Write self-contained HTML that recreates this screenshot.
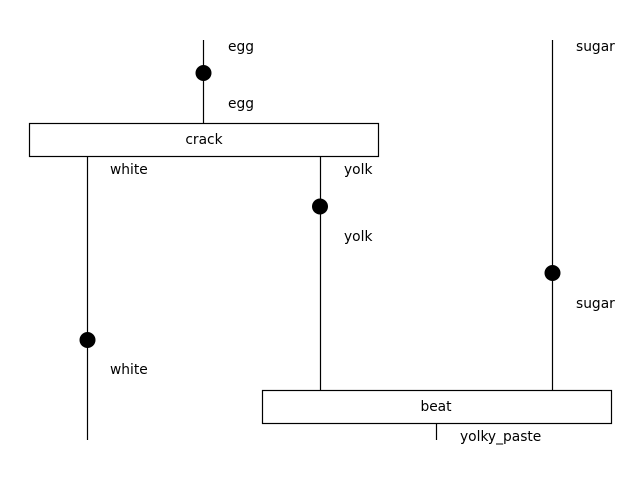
<!DOCTYPE html>
<html><head><meta charset="utf-8"><style>
html,body{margin:0;padding:0;background:#fff;}
svg{display:block;}
text{font-family:"DejaVu Sans","Liberation Sans",sans-serif;font-size:13.8px;fill:#000;dominant-baseline:central;}
</style></head><body>
<svg width="640" height="480" viewBox="0 0 640 480">
<g stroke="#000" stroke-width="1.2" fill="none">
<line x1="203.5" y1="40" x2="203.5" y2="123"/>
<line x1="87.5" y1="157" x2="87.5" y2="440"/>
<line x1="320.5" y1="157" x2="320.5" y2="390"/>
<line x1="552.5" y1="40" x2="552.5" y2="390"/>
<line x1="436.5" y1="423" x2="436.5" y2="440"/>
<rect x="29.5" y="123.5" width="349" height="33" fill="#fff"/>
<rect x="262.5" y="390.5" width="349" height="33" fill="#fff"/>
</g>
<g fill="#000">
<circle cx="203.5" cy="73" r="8"/>
<circle cx="320" cy="206.5" r="8"/>
<circle cx="87.5" cy="340" r="8"/>
<circle cx="552.5" cy="273" r="8"/>
</g>
<g transform="translate(0,1)">
<text x="228" y="46">egg</text>
<text x="228" y="103">egg</text>
<text x="204" y="139" text-anchor="middle">crack</text>
<text x="110" y="169">white</text>
<text x="110" y="369">white</text>
<text x="344" y="169">yolk</text>
<text x="344" y="236">yolk</text>
<text x="576" y="46">sugar</text>
<text x="576" y="303">sugar</text>
<text x="436" y="406" text-anchor="middle">beat</text>
<text x="460" y="436">yolky_paste</text>
</g>
</svg>
</body></html>
